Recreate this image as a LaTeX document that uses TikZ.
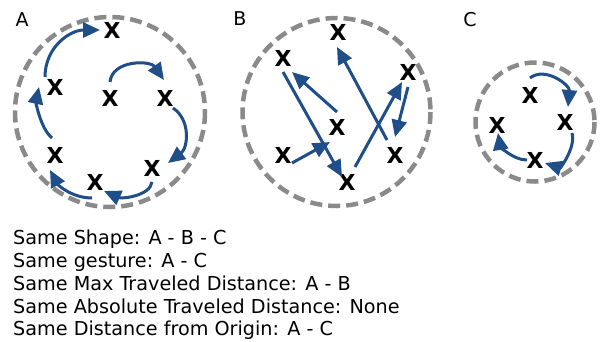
\documentclass[tikz,border=0pt]{standalone}
\usepackage{fontspec}
\setmainfont{DejaVu Sans}
\usetikzlibrary{arrows.meta}
\definecolor{arrblue}{HTML}{1F4E89}
\definecolor{ringgrey}{HTML}{8A8A8A}
\tikzset{
  ring/.style={draw=ringgrey, line width=4.5pt, dash pattern=on 12pt off 6pt},
  xmark/.style={inner sep=0pt, font=\fontsize{22}{22}\selectfont\bfseries},
  panel/.style={inner sep=0pt, font=\fontsize{19}{19}\selectfont},
  legend/.style={inner sep=0pt, anchor=base west, font=\fontsize{19.2}{20}\selectfont},
  move/.style={draw=arrblue, line width=3pt, -{Triangle[length=17pt,width=15pt]}}
}
\begin{document}
\begin{tikzpicture}[x=1pt,y=-1pt]
\useasboundingbox (0,0) rectangle (602,341);
\fill[white] (0,0) rectangle (602,341);

% panel labels
\node[panel] (lA) at (22,20) {A};
\node[panel] (lB) at (240,19) {B};
\node[panel] (lC) at (470,20) {C};

% rings
\draw[ring] (110,112) circle[radius=95];
\draw[ring] (336.5,112) circle[radius=94];
\draw[ring] (535,122) circle[radius=59.5];

% ---- A ----
\node[xmark] (aT)  at (112,30)  {X};
\node[xmark] (aLU) at (55,87)   {X};
\node[xmark] (aC)  at (110,98)  {X};
\node[xmark] (aR)  at (165,98)  {X};
\node[xmark] (aLL) at (55,155)  {X};
\node[xmark] (aBR) at (152,168) {X};
\node[xmark] (aB)  at (95,182)  {X};

\draw[move] ([shift={(0,-16)}]aC.center) .. controls +(2,-22) and +(-14,-20) .. ([shift={(-1,-18)}]aR.center);
\draw[move] ([shift={(8,10)}]aR.center) .. controls +(18,12) and +(20,-15) .. ([shift={(16,-5)}]aBR.center);
\draw[move] ([shift={(0,14)}]aBR.center) .. controls +(-2,14) and +(18,8) .. ([shift={(9,9)}]aB.center);
\draw[move] ([shift={(-3,16)}]aB.center) .. controls +(-20,0) and +(8,15) .. ([shift={(-5,15)}]aLL.center);
\draw[move] ([shift={(-3,-17)}]aLL.center) .. controls +(-12,-10) and +(-3,14) .. ([shift={(-16,0)}]aLU.center);
\draw[move] ([shift={(-10,-10)}]aLU.center) .. controls +(0,-30) and +(-30,0) .. ([shift={(-12,0)}]aT.center);

% ---- B ----
\node[xmark] (bT)  at (338,32)  {X};
\node[xmark] (bLT) at (283,58)  {X};
\node[xmark] (bRT) at (408,72)  {X};
\node[xmark] (bM)  at (337,127) {X};
\node[xmark] (bLL) at (283,155) {X};
\node[xmark] (bRL) at (395,155) {X};
\node[xmark] (bB)  at (347,182) {X};

\draw[move] ([shift={(9,8)}]bLL.center) -- ([shift={(-7,15)}]bM.center);
\draw[move] ([shift={(0,14)}]bLT.center) -- ([shift={(-5,-5)}]bB.center);
\draw[move] ([shift={(0,-15)}]bM.center) -- ([shift={(9,14)}]bLT.center);
\draw[move] ([shift={(8,-15)}]bB.center) -- ([shift={(-6,10)}]bRT.center);
\draw[move] ([shift={(0,15)}]bRT.center) -- ([shift={(0,-18)}]bRL.center);
\draw[move] ([shift={(-8,-15)}]bRL.center) -- ([shift={(-1,15)}]bT.center);

% ---- C ----
\node[xmark] (cT) at (530,95)  {X};
\node[xmark] (cR) at (565,122) {X};
\node[xmark] (cL) at (497,125) {X};
\node[xmark] (cB) at (535,160) {X};

\draw[move] ([shift={(0,-17)}]cT.center) .. controls +(15,-12) and +(2,-22) .. ([shift={(3,-15)}]cR.center);
\draw[move] ([shift={(7,11)}]cR.center) .. controls +(4,15) and +(15,5) .. ([shift={(10,3)}]cB.center);
\draw[move] ([shift={(-8,0)}]cB.center) .. controls +(-15,0) and +(2,12) .. ([shift={(1,8)}]cL.center);

% ---- legend ----
\node[legend] (t1) at (13,244) {Same Shape: A - B - C};
\node[legend] (t2) at (13,267) {Same gesture: A - C};
\node[legend] (t3) at (13,290) {Same Max Traveled Distance: A - B};
\node[legend] (t4) at (13,313) {Same Absolute Traveled Distance: None};
\node[legend] (t5) at (13,335.5) {Same Distance from Origin: A - C};
\end{tikzpicture}
\end{document}
